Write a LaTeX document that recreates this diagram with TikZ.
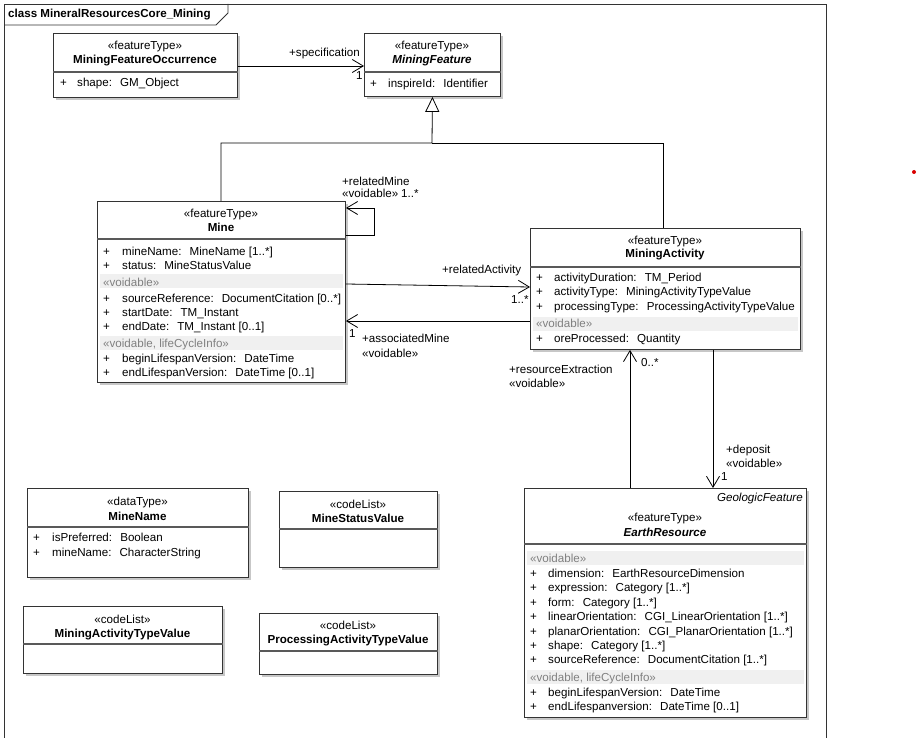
\documentclass[tikz,border=0pt]{standalone}
\usepackage{fontspec}
\setmainfont{Liberation Sans}
\usepackage{tikz}
\usetikzlibrary{arrows.meta,shadows}

\newcommand\umlfont{\fontsize{11.6}{14}\selectfont}
\newcommand\asep{\hspace{0.7em}}

\begin{document}
\begin{tikzpicture}[
  x=1pt, y=-1pt,
  font=\umlfont,
  cls/.style={draw=black!80, line width=0.9pt, fill=white, anchor=north west, inner sep=0pt,
    drop shadow={shadow xshift=3pt, shadow yshift=-3pt, fill=black!22, opacity=1}},
  stereo/.style={anchor=base, inner sep=0pt},
  cname/.style={anchor=base, inner sep=0pt, font=\umlfont\bfseries},
  aname/.style={anchor=base, inner sep=0pt, font=\umlfont\bfseries\itshape},
  attr/.style={anchor=base west, inner sep=0pt},
  vtag/.style={anchor=base west, inner sep=0pt, text=black!50},
  band/.style={fill=black!6},
  div/.style={draw=black!65, line width=1.2pt},
  lbl/.style={anchor=base west, inner sep=0pt},
  assoc/.style={-{Straight Barb[length=11pt,width=13pt]}, line width=0.8pt},
  gen/.style={-{Triangle[open,length=15pt,width=14pt]}, line width=0.8pt}
]
\useasboundingbox (0,0) rectangle (918,738);

% frame
\draw[line width=0.9pt, black!80] (4,745) -- (4,4) -- (826,4) -- (826,745);
\draw[line width=0.9pt, black!80] (4,25) -- (216,25) -- (228,13) -- (228,4);
\node[lbl, font=\umlfont\bfseries] (title) at (8,18) {class MineralResourcesCore\_Mining};
\fill[red!85!black] (914,172) circle (2pt);

% MiningFeatureOccurrence
\node[cls, minimum width=184pt, minimum height=64pt] (mfo) at (53,33) {};
\draw[div] ([yshift=-39pt]mfo.north west) -- ([yshift=-39pt]mfo.north east);
\node[stereo] (mfoS) at (145,50) {«featureType»};
\node[cname] (mfoN) at (145,64) {MiningFeatureOccurrence};
\node[attr] (mfoP1) at (60,87) {+};
\node[attr] (mfoA1) at (77,87) {shape:\asep GM\_Object};

% MiningFeature
\node[cls, minimum width=136pt, minimum height=63pt] (mf) at (364,33) {};
\draw[div] ([yshift=-39pt]mf.north west) -- ([yshift=-39pt]mf.north east);
\node[stereo] (mfS) at (432,50) {«featureType»};
\node[aname] (mfN) at (432,64) {MiningFeature};
\node[attr] (mfP1) at (370,88) {+};
\node[attr] (mfA1) at (388,88) {inspireId:\asep Identifier};

% Mine
\node[cls, minimum width=248pt, minimum height=181pt] (mine) at (97,201) {};
\draw[div] ([yshift=-38pt]mine.north west) -- ([yshift=-38pt]mine.north east);
\fill[band] ([xshift=3pt,yshift=-73pt]mine.north west) rectangle ([xshift=-3pt,yshift=-87pt]mine.north east);
\fill[band] ([xshift=3pt,yshift=-135pt]mine.north west) rectangle ([xshift=-3pt,yshift=-149pt]mine.north east);
\node[stereo] (mineS) at (221,218) {«featureType»};
\node[cname] (mineN) at (221,232) {Mine};
\node[vtag] (mineV1) at (103,286) {«voidable»};
\node[vtag] (mineV2) at (103,347) {«voidable, lifeCycleInfo»};
\foreach \ya/\txt [count=\i] in {255/{mineName:\asep MineName [1..*]}, 269/{status:\asep MineStatusValue},
    302/{sourceReference:\asep DocumentCitation [0..*]}, 316/{startDate:\asep TM\_Instant},
    330/{endDate:\asep TM\_Instant [0..1]}, 362/{beginLifespanVersion:\asep DateTime},
    376/{endLifespanVersion:\asep DateTime [0..1]}}
  {\node[attr] (mineP\i) at (103,\ya) {+}; \node[attr] (mineA\i) at (122,\ya) {\txt};}

% MiningActivity
\node[cls, minimum width=270pt, minimum height=121pt] (act) at (530,228) {};
\draw[div] ([yshift=-39pt]act.north west) -- ([yshift=-39pt]act.north east);
\fill[band] ([xshift=3pt,yshift=-89pt]act.north west) rectangle ([xshift=-3pt,yshift=-103pt]act.north east);
\node[stereo] (actS) at (665,244) {«featureType»};
\node[cname] (actN) at (665,258) {MiningActivity};
\node[vtag] (actV1) at (536,327) {«voidable»};
\foreach \ya/\txt [count=\i] in {281/{activityDuration:\asep TM\_Period}, 295.5/{activityType:\asep MiningActivityTypeValue},
    310/{processingType:\asep ProcessingActivityTypeValue}, 342/{oreProcessed:\asep Quantity}}
  {\node[attr] (actP\i) at (536,\ya) {+}; \node[attr] (actA\i) at (554,\ya) {\txt};}

% EarthResource
\node[cls, minimum width=282pt, minimum height=229pt] (er) at (524,488) {};
\draw[div] ([yshift=-56pt]er.north west) -- ([yshift=-56pt]er.north east);
\fill[band] ([xshift=3pt,yshift=-63pt]er.north west) rectangle ([xshift=-3pt,yshift=-77pt]er.north east);
\fill[band] ([xshift=3pt,yshift=-182pt]er.north west) rectangle ([xshift=-3pt,yshift=-196pt]er.north east);
\node[anchor=base east, inner sep=0pt, font=\umlfont\itshape] (erG) at (803,501) {GeologicFeature};
\node[stereo] (erS) at (665,521) {«featureType»};
\node[aname] (erN) at (665,536) {EarthResource};
\node[vtag] (erV1) at (530,562) {«voidable»};
\node[vtag] (erV2) at (530,681) {«voidable, lifeCycleInfo»};
\foreach \ya/\txt [count=\i] in {577.5/{dimension:\asep EarthResourceDimension}, 591.5/{expression:\asep Category [1..*]},
    606/{form:\asep Category [1..*]}, 620.5/{linearOrientation:\asep CGI\_LinearOrientation [1..*]},
    635/{planarOrientation:\asep CGI\_PlanarOrientation [1..*]}, 649/{shape:\asep Category [1..*]},
    663.5/{sourceReference:\asep DocumentCitation [1..*]}, 696.5/{beginLifespanVersion:\asep DateTime},
    710.5/{endLifespanversion:\asep DateTime [0..1]}}
  {\node[attr] (erP\i) at (530,\ya) {+}; \node[attr] (erA\i) at (548,\ya) {\txt};}

% MineName
\node[cls, minimum width=221pt, minimum height=89pt] (mname) at (27,488) {};
\draw[div] ([yshift=-39pt]mname.north west) -- ([yshift=-39pt]mname.north east);
\node[stereo] (mnameS) at (137.5,505) {«dataType»};
\node[cname] (mnameN) at (137.5,520) {MineName};
\node[attr] (mnameP1) at (33,541.5) {+};
\node[attr] (mnameA1) at (52,541.5) {isPreferred:\asep Boolean};
\node[attr] (mnameP2) at (33,556) {+};
\node[attr] (mnameA2) at (52,556) {mineName:\asep CharacterString};

% code lists
\node[cls, minimum width=158pt, minimum height=76pt] (mstat) at (279,491) {};
\draw[div] ([yshift=-38pt]mstat.north west) -- ([yshift=-38pt]mstat.north east);
\node[stereo] (mstatS) at (358,508) {«codeList»};
\node[cname] (mstatN) at (358,522) {MineStatusValue};

\node[cls, minimum width=199pt, minimum height=67pt] (matv) at (23,606) {};
\draw[div] ([yshift=-38pt]matv.north west) -- ([yshift=-38pt]matv.north east);
\node[stereo] (matvS) at (122.5,623) {«codeList»};
\node[cname] (matvN) at (122.5,637) {MiningActivityTypeValue};

\node[cls, minimum width=178pt, minimum height=61pt] (patv) at (259,613) {};
\draw[div] ([yshift=-38pt]patv.north west) -- ([yshift=-38pt]patv.north east);
\node[stereo] (patvS) at (348,629) {«codeList»};
\node[cname] (patvN) at (348,643) {ProcessingActivityTypeValue};

% generalization
\coordinate (genJ) at (432,143);
\draw[gen] ([xshift=124pt]mine.north west) |- (genJ) -- (mf.south);
\draw[line width=0.8pt] ([xshift=133pt]act.north west) |- (genJ);

% associations
\draw[assoc] ([yshift=-33pt]mfo.north east) -- ([yshift=-33pt]mf.north west);
\node[lbl] (specL) at (289,57) {+specification};
\node[lbl] (specM) at (356,80) {1};

\draw[assoc] ([yshift=-34pt]mine.north east) -- ++(28,0) -- ++(0,-27) -- ([yshift=-7pt]mine.north east);
\node[lbl] (relML) at (342,186) {+relatedMine};
\node[lbl] (relMV) at (342,198) {«voidable»};
\node[lbl] (relMM) at (401,198) {1..*};

\draw[assoc] ([yshift=-83pt]mine.north east) -- ([yshift=-59pt]act.north west);
\node[lbl] (relAL) at (442,273) {+relatedActivity};
\node[lbl] (relAM) at (511,303) {1..*};

\draw[assoc] ([yshift=-93pt]act.north west) -- ([yshift=-120pt]mine.north east);
\node[lbl] (assML) at (362,342) {+associatedMine};
\node[lbl] (assMV) at (362,357) {«voidable»};
\node[lbl] (assMM) at (349,337) {1};

\draw[assoc] ([xshift=106pt]er.north west) -- ([xshift=100pt]act.south west);
\node[lbl] (resL) at (509,373) {+resourceExtraction};
\node[lbl] (resV) at (509,387) {«voidable»};
\node[lbl] (resM) at (641,366) {0..*};

\draw[assoc] ([xshift=183pt]act.south west) -- ([xshift=189pt]er.north west);
\node[lbl] (depL) at (726,453) {+deposit};
\node[lbl] (depV) at (726,467) {«voidable»};
\node[lbl] (depM) at (721,480) {1};
\end{tikzpicture}
\end{document}
